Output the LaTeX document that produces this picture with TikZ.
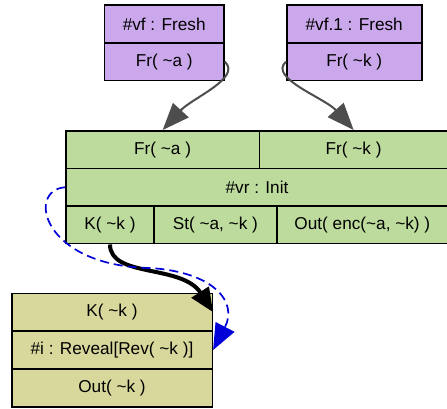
\documentclass[tikz,border=0pt]{standalone}
\usepackage{fontspec}
\setmainfont{Liberation Sans}
\usetikzlibrary{arrows.meta}

\definecolor{freshfill}{HTML}{CBA8EC}
\definecolor{initfill}{HTML}{BCDB9C}
\definecolor{revfill}{HTML}{D8D89D}
\definecolor{edgegray}{HTML}{4D4D4D}
\newcommand{\tildech}{\textasciitilde}

\tikzset{
  cell/.style={draw=black, line width=1.6pt, inner sep=0pt, minimum height=37.8pt,
    font=\fontsize{17.2}{20}\selectfont},
  freshcell/.style={cell, fill=freshfill},
  initcell/.style={cell, fill=initfill},
  revcell/.style={cell, fill=revfill},
  freshedge/.style={draw=edgegray, line width=2pt,
    -{Triangle[length=27pt,width=21pt]}},
  keyedge/.style={draw=black, line width=4pt,
    -{Triangle[length=24pt,width=20pt]}},
  orderedge/.style={draw=blue!85!black, line width=1.7pt, dash pattern=on 9pt off 5pt,
    -{Triangle[length=26pt,width=21pt]}}
}

\begin{document}
\begin{tikzpicture}[x=1pt,y=-1pt]
    \useasboundingbox (0,0) rectangle (447,408);
    % fresh rules
    \node[freshcell, minimum width=119.7pt] (vfA) at (164.2,23.9) {\#vf : Fresh};
    \node[freshcell, minimum width=119.7pt] (frA) at (164.2,61.7) {Fr( \tildech a )};
    \node[freshcell, minimum width=135pt] (vfK) at (354.2,23.9) {\#vf.1 : Fresh};
    \node[freshcell, minimum width=135pt] (frK) at (354.2,61.7) {Fr( \tildech k )};
    % init rule
    \node[initcell, minimum width=193.3pt] (inA) at (162.65,149.75) {Fr( \tildech a )};
    \node[initcell, minimum width=188.7pt] (inK) at (353.65,149.75) {Fr( \tildech k )};
    \node[initcell, minimum width=382pt] (init) at (257,187.25) {\#vr : Init};
    \node[initcell, minimum width=88pt] (outK) at (110,224.75) {K( \tildech k )};
    \node[initcell, minimum width=122.7pt] (outSt) at (215.35,224.75) {St( \tildech a, \tildech k )};
    \node[initcell, minimum width=171.3pt] (outEnc) at (362.35,224.75) {Out( enc(\tildech a, \tildech k) )};
    % reveal rule
    \node[revcell, minimum width=200.6pt] (rvK) at (112,312.2) {K( \tildech k )};
    \node[revcell, minimum width=200.6pt] (rev) at (112,350) {\#i : Reveal[Rev( \tildech k )]};
    \node[revcell, minimum width=200.6pt] (rvOut) at (112,387.8) {Out( \tildech k )};
    % edges
    \draw[freshedge] (frA.east) .. controls (242,78) and (192,98) .. (inA.north);
    \draw[freshedge] (frK.west) .. controls (268,78) and (325,98) .. (inK.north);
    \draw[keyedge] (outK.south) .. controls (110,278) and (182,264) .. (rvK.east);
    \draw[orderedge] (init.west) .. controls (26,190) and (42,266) .. (150,268)
        .. controls (214,272) and (238,302) .. (rev.east);
\end{tikzpicture}
\end{document}
